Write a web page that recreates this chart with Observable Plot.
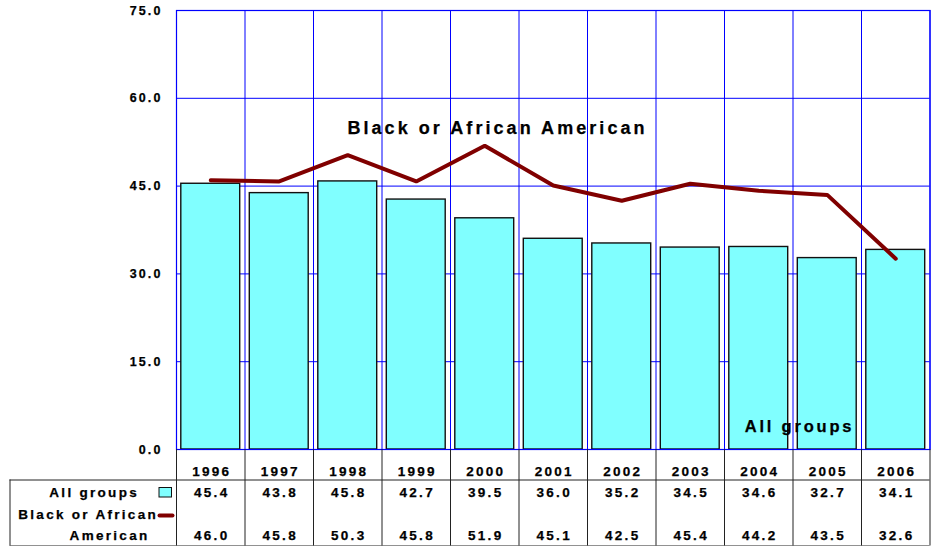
<!DOCTYPE html>
<html>
<head>
<meta charset="utf-8">
<script src="https://cdn.jsdelivr.net/npm/d3@7"></script>
<script src="https://cdn.jsdelivr.net/npm/@observablehq/plot@0.6"></script>
<style>
  html, body { margin: 0; padding: 0; background: #fff; }
  svg text { letter-spacing: 0.17em; }
  g[aria-label="series-label-black"] text { letter-spacing: 2.8px; }
  g[aria-label="series-label-all"] text { letter-spacing: 3.3px; }
</style>
</head>
<body>
<div id="chart"></div>
<script>
// ---- data ----
const years = [1996, 1997, 1998, 1999, 2000, 2001, 2002, 2003, 2004, 2005, 2006];
const allGroups = [45.4, 43.8, 45.8, 42.7, 39.5, 36.0, 35.2, 34.5, 34.6, 32.7, 34.1];
const blackAA = [46.0, 45.8, 50.3, 45.8, 51.9, 45.1, 42.5, 45.4, 44.2, 43.5, 32.6];
const yTicks = [0, 15, 30, 45, 60, 75];
const seriesNames = ["All groups", "Black or African American"];

const rows = years.map((year, i) => ({year, all: allGroups[i], black: blackAA[i]}));

// ---- layout ----
const W = 931, H = 546;
const mL = 176, mR = 1.5, mT = 10, mB = 97;
const xDomain = [years[0] - 0.5, years[years.length - 1] + 0.5];
const yDomain = [0, 75];
const plotBottom = H - mB, plotRight = W - mR;
// pixel -> data helpers for the table drawn beneath the plot frame
const X = p => xDomain[0] + (p - mL) * (xDomain[1] - xDomain[0]) / (plotRight - mL);
const Y = p => (plotBottom - p) * (yDomain[1] - yDomain[0]) / (plotBottom - mT);
const bounds = d3.range(years.length + 1).map(i => xDomain[0] + i);
const blue = "#0000ff";
const fmt = d3.format(".1f");
const font = "'Liberation Sans', Arial, sans-serif";
const ink = "#000";
const heavy = {fill: ink, stroke: ink, strokeWidth: 0.25};

const chart = Plot.plot({
  width: W, height: H,
  marginLeft: mL, marginRight: mR, marginTop: mT, marginBottom: mB,
  style: {fontFamily: font, fontWeight: "bold", color: "#000", background: "#fff", overflow: "visible"},
  x: {domain: xDomain, axis: null},
  y: {domain: yDomain, axis: null},
  marks: [
    // grid
    Plot.ruleY(yTicks.slice(1, -1), {stroke: blue, strokeWidth: 1}),
    Plot.ruleX(bounds, {y1: 0, y2: 75, stroke: blue, strokeWidth: 1}),
    // bars
    Plot.rectY(rows, {x1: d => d.year - 0.43, x2: d => d.year + 0.43, y: "all",
      fill: "#80ffff", stroke: "#111", strokeWidth: 1.4}),
    Plot.frame({stroke: blue, strokeWidth: 1.2}),
    // line
    Plot.line(rows, {x: "year", y: "black", stroke: "#800000", strokeWidth: 4,
      strokeLinejoin: "miter", strokeLinecap: "round"}),
    // y axis labels
    Plot.text(yTicks, {x: xDomain[0], y: d => d, text: d => fmt(d), textAnchor: "end",
      dx: -14, fontSize: 12.5, fontWeight: "bold", ...heavy}),
    // series labels inside plot
    Plot.text([seriesNames[1]], {x: X(497), y: Y(127.5), text: d => d, fontSize: 18, fontWeight: "bold",
      ariaLabel: "series-label-black", ...heavy}),
    Plot.text([seriesNames[0]], {x: X(799), y: Y(426), text: d => d, fontSize: 16.5, fontWeight: "bold",
      ariaLabel: "series-label-all", ...heavy}),
    // ---- data table ----
    Plot.ruleX(bounds, {y1: 0, y2: Y(545.5), stroke: "#222", strokeWidth: 1}),
    Plot.ruleY([Y(479.5), Y(545.5)], {x1: X(9.5), x2: xDomain[1], stroke: "#222", strokeWidth: 1}),
    Plot.ruleX([X(9.5)], {y1: Y(479.5), y2: Y(545.5), stroke: "#222", strokeWidth: 1}),
    Plot.text(rows, {x: "year", y: 0, dy: 22.5, text: d => String(d.year), fontSize: 13.5, dx: 1, ...heavy}),
    Plot.text(rows, {x: "year", y: 0, dy: 43.5, text: d => fmt(d.all), fontSize: 13.5, dx: 1, ...heavy}),
    Plot.text(rows, {x: "year", y: 0, dy: 86, text: d => fmt(d.black), fontSize: 13.5, dx: 1, ...heavy}),
    // row labels
    Plot.text([seriesNames[0]], {x: X(138.5), y: Y(492.5), text: d => d, textAnchor: "end", fontSize: 13.5, ...heavy}),
    Plot.text(["Black or African"], {x: X(157.5), y: Y(514), text: d => d, textAnchor: "end", fontSize: 13.5, ...heavy}),
    Plot.text(["American"], {x: X(149), y: Y(535), text: d => d, textAnchor: "end", fontSize: 13.5, ...heavy}),
    // legend swatches
    Plot.rect([0], {x1: X(159), x2: X(171.5), y1: Y(497), y2: Y(487.5), fill: "#80ffff", stroke: "#111", strokeWidth: 1}),
    Plot.line([[X(159), Y(515)], [X(172), Y(515)]], {stroke: "#800000", strokeWidth: 4, strokeLinecap: "round"})
  ]
});
document.getElementById("chart").appendChild(chart);
</script>
</body>
</html>
